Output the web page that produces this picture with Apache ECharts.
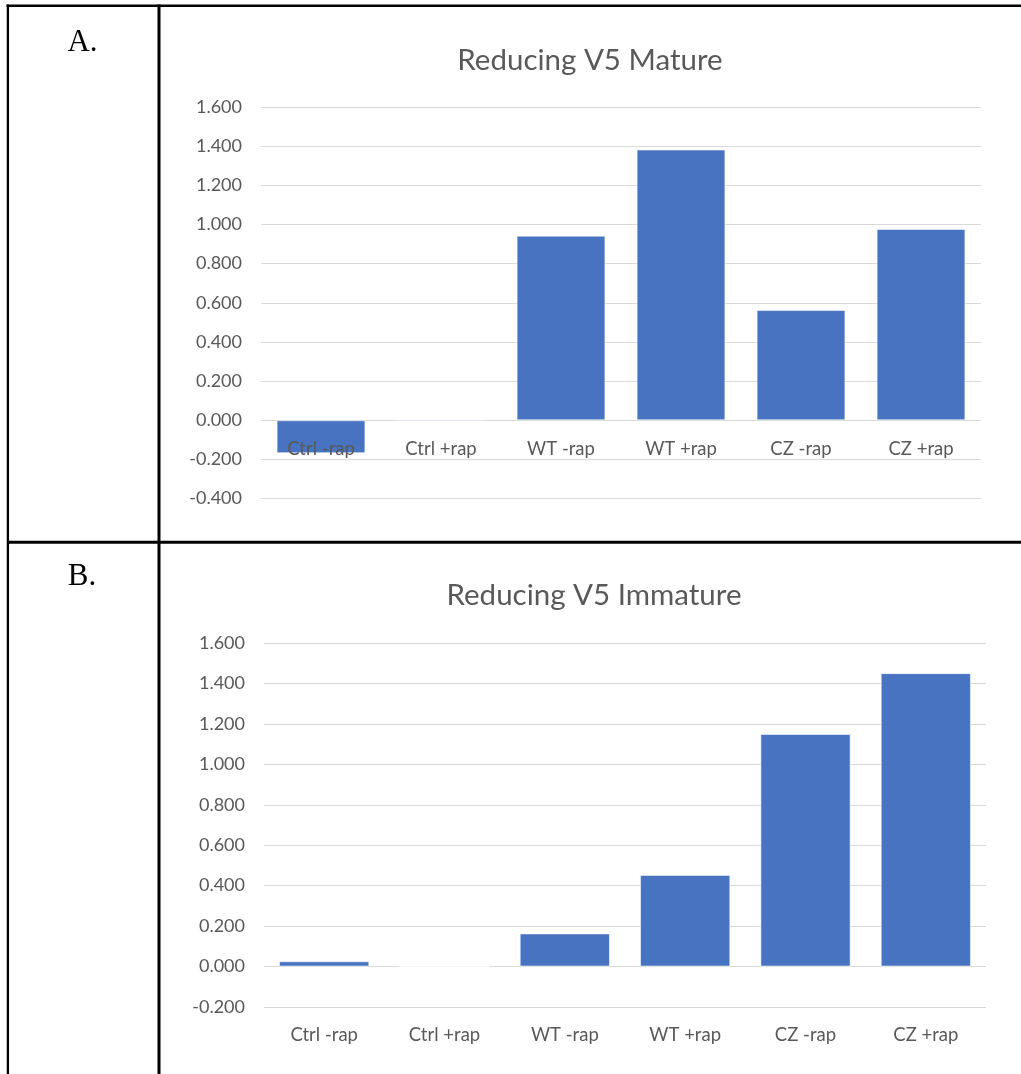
<!DOCTYPE html>
<html>
<head>
<meta charset="utf-8">
<script src="https://cdn.jsdelivr.net/npm/echarts@6/dist/echarts.min.js"></script>
<style>
html,body{margin:0;padding:0;background:#fff;}
#chart{width:1021px;height:1074px;}
</style>
</head>
<body>
<div id="chart"></div>
<script>
const categories = ['Ctrl -rap', 'Ctrl +rap', 'WT -rap', 'WT +rap', 'CZ -rap', 'CZ +rap'];
const matureValues = [-0.168, -0.006, 0.943, 1.383, 0.563, 0.977];
const immatureValues = [0.026, 0, 0.164, 0.453, 1.150, 1.451];
const titleA = 'Reducing V5 Mature';
const titleB = 'Reducing V5 Immature';
const panelLabels = ['A.', 'B.'];

const FONT = 'Lato, "Open Sans", sans-serif';
const TXT = '#595959';
const BAR = '#4773C0';

const chart = echarts.init(document.getElementById('chart'), null, {renderer: 'canvas'});

function yAxisCfg(gridIndex, min) {
  return {
    gridIndex: gridIndex, type: 'value', min: min, max: 1.6, interval: 0.2,
    axisLine: {show: false}, axisTick: {show: false},
    axisLabel: {color: TXT, fontFamily: FONT, fontSize: 18, margin: 19,
      formatter: v => (Math.abs(v) < 1e-9 ? 0 : v).toFixed(3)},
    splitLine: {lineStyle: {color: '#D9D9D9', width: 1}}
  };
}
function xAxisCfg(gridIndex, offset) {
  return {
    gridIndex: gridIndex, type: 'category', data: categories, z: 5,
    position: 'bottom', offset: offset,
    axisLine: {show: false, onZero: false},
    axisTick: {show: false},
    axisLabel: {color: TXT, fontFamily: FONT, fontSize: 18.5, margin: 19, interval: 0},
    splitLine: {show: false}
  };
}

const lineStyle = {stroke: '#000', lineWidth: 3};

chart.setOption({
  backgroundColor: '#fff',
  animation: false,
  title: [
    {text: titleA, left: 590, top: 45, textAlign: 'center', padding: 0,
     textStyle: {color: TXT, fontFamily: FONT, fontSize: 29.5, fontWeight: 'normal'}},
    {text: titleB, left: 594, top: 580, textAlign: 'center', padding: 0,
     textStyle: {color: TXT, fontFamily: FONT, fontSize: 29.5, fontWeight: 'normal'}}
  ],
  grid: [
    {left: 261, right: 40, top: 107, height: 391.6},
    {left: 264, right: 35, top: 643, height: 364}
  ],
  // chart A's category labels hang from the zero line (2 of 10 steps above the grid bottom)
  xAxis: [xAxisCfg(0, -391.6 * 2 / 10), xAxisCfg(1, 0)],
  yAxis: [yAxisCfg(0, -0.4), yAxisCfg(1, -0.2)],
  series: [
    {type: 'bar', xAxisIndex: 0, yAxisIndex: 0, data: matureValues, barCategoryGap: '26%',
     itemStyle: {color: BAR, borderColor: 'rgba(255,255,255,0.55)', borderWidth: 1}},
    {type: 'bar', xAxisIndex: 1, yAxisIndex: 1, data: immatureValues, barCategoryGap: '25%',
     itemStyle: {color: BAR, borderColor: 'rgba(255,255,255,0.55)', borderWidth: 1}}
  ],
  graphic: [
    {type: 'line', shape: {x1: 6.5, y1: 5.7, x2: 1021, y2: 5.7}, style: {stroke: '#000', lineWidth: 2.6}},
    {type: 'line', shape: {x1: 7.9, y1: 4.5, x2: 7.9, y2: 1074}, style: {stroke: '#000', lineWidth: 2.3}},
    {type: 'line', shape: {x1: 159, y1: 4.5, x2: 159, y2: 1074}, style: lineStyle},
    {type: 'line', shape: {x1: 7, y1: 542.3, x2: 1021, y2: 542.3}, style: lineStyle},
    {type: 'text', style: {x: 82.5, y: 43, text: panelLabels[0], textAlign: 'center', textVerticalAlign: 'middle',
      font: '31px "Liberation Serif", "DejaVu Serif", serif', fill: '#000'}},
    {type: 'text', style: {x: 82, y: 577, text: panelLabels[1], textAlign: 'center', textVerticalAlign: 'middle',
      font: '31px "Liberation Serif", "DejaVu Serif", serif', fill: '#000'}}
  ]
});
</script>
</body>
</html>
